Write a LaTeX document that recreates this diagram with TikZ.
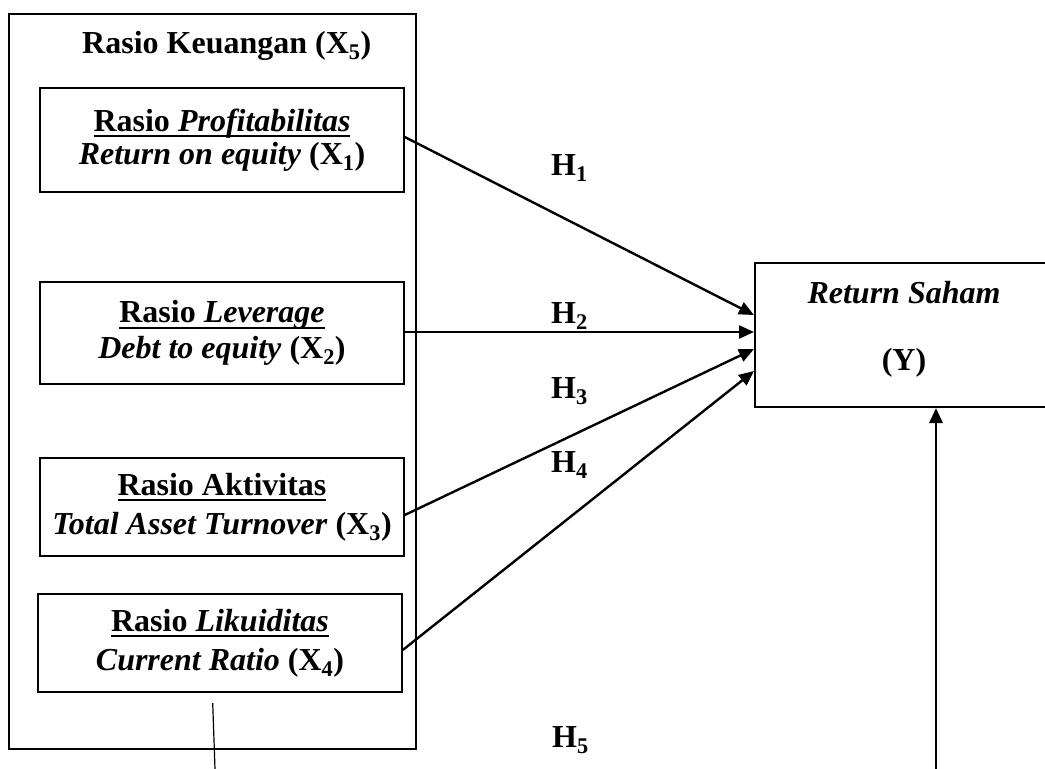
\documentclass[tikz,border=0pt]{standalone}
\usepackage{fontspec}
\setmainfont{Liberation Serif}
\usetikzlibrary{arrows.meta}
\newsavebox{\myulbox}
\newcommand{\myul}[1]{\sbox{\myulbox}{#1}\rlap{\rule[-6pt]{\wd\myulbox}{2pt}}\usebox{\myulbox}}
\newcommand{\mysub}[1]{\textsubscript{#1}}
\begin{document}
\begin{tikzpicture}[x=1pt,y=-1pt,
  every node/.style={font=\fontsize{32}{36}\selectfont\bfseries, inner sep=0pt},
  inbox/.style={draw, line width=1.5pt, minimum width=364pt, align=center},
  bigbox/.style={draw, line width=2pt},
  arr/.style={line width=2.4pt, -{Triangle[length=15pt,width=13pt]}},
  hlab/.style={anchor=base west}]
\useasboundingbox (0,0) rectangle (1045,769);
% outer box
\node[bigbox, minimum width=407pt, minimum height=735pt] (x5) at (212.5,381.5) {};
\node[anchor=base west] (title) at (82,53) {Rasio Keuangan (X\mysub{5})};
% inner boxes
\node[inbox, minimum height=104pt] (b1) at (222,140)
  {\myul{Rasio \textit{Profitabilitas}}\\[-3pt]\textit{Return on equity} (X\mysub{1})};
\node[inbox, minimum height=102pt] (b2) at (222,333)
  {\myul{Rasio \textit{Leverage}}\\\textit{Debt to equity} (X\mysub{2})};
\node[inbox, minimum height=98pt] (b3) at (222,507)
  {\myul{Rasio Aktivitas}\\[3pt]\textit{Total Asset Turnover} (X\mysub{3})};
\node[inbox, minimum height=98pt] (b4) at (220,643)
  {\myul{Rasio \textit{Likuiditas}}\\[3pt]\textit{Current Ratio} (X\mysub{4})};
% dependent variable box
\node[bigbox, minimum width=298pt, minimum height=144pt] (y) at (904,335) {};
\node[anchor=base] (yt) at (904,303) {\textit{Return Saham}};
\node[anchor=base] (yl) at (904,370) {(Y)};
% arrows
\draw[arr] ([yshift=3pt]b1.east) -- ([yshift=20pt]y.west);
\draw[arr] ([yshift=1pt]b2.east) -- ([yshift=3pt]y.west);
\draw[arr] ([yshift=-8pt]b3.east) -- ([yshift=-14pt]y.west);
\draw[arr] ([yshift=-7pt]b4.east) -- ([yshift=-36pt]y.west);
\coordinate (yb) at (936,769);
\draw[arr, line width=2.8pt] (yb) -- (yb |- y.south);
\coordinate (l1) at (212.7,703);
\coordinate (l2) at (215,769);
\draw[line width=1.2pt] (l1) -- (l2);
% hypothesis labels
\node[hlab] (h1) at (551,175) {H\mysub{1}};
\node[hlab] (h2) at (551,323) {H\mysub{2}};
\node[hlab] (h3) at (551,398) {H\mysub{3}};
\node[hlab] (h4) at (551,472) {H\mysub{4}};
\node[hlab] (h5) at (552,747) {H\mysub{5}};
\end{tikzpicture}
\end{document}
